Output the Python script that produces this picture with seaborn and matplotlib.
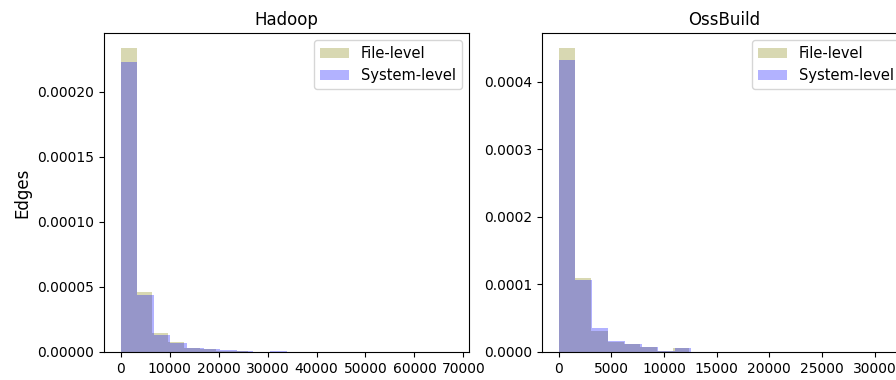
import numpy as np
import pandas as pd
import matplotlib
matplotlib.use("Agg")
import matplotlib.pyplot as plt
import seaborn as sns

# ---- data (density per bin) ----
hadoop_file_max = 65000
hadoop_sys_max = 67760
hadoop_file = [2.336e-4, 4.65e-5, 1.44e-5, 8.0e-6, 2.8e-6, 2.1e-6, 1.0e-6, 4e-7, 3e-7, 3e-7,
               2e-7, 0, 0, 0, 0, 0, 0, 0, 0, 1e-7]
hadoop_sys = [2.226e-4, 4.38e-5, 1.31e-5, 7.2e-6, 2.8e-6, 2.1e-6, 1.2e-6, 8e-7, 3e-7, 6e-7,
              3e-7, 0, 0, 0, 0, 0, 0, 0, 0, 1e-7]

oss_file_max = 31000
oss_sys_max = 31500
oss_file = [4.50e-4, 1.095e-4, 3.12e-5, 1.53e-5, 1.23e-5, 7.9e-6, 1.5e-6, 5.5e-6, 0, 5e-7,
            4e-7, 0, 4e-7, 4e-7, 0, 0, 0, 4e-7, 0, 2e-7]
oss_sys = [4.33e-4, 1.07e-4, 3.61e-5, 1.63e-5, 1.23e-5, 7.9e-6, 1.5e-6, 5.5e-6, 0, 5e-7,
           4e-7, 0, 6e-7, 4e-7, 0, 0, 0, 5e-7, 0, 2e-7]

titles = ["Hadoop", "OssBuild"]
series_labels = ["File-level", "System-level"]
colors = ["olive", "blue"]
n_bins = 20

fig = plt.figure(figsize=(8.96, 3.8), dpi=100)
ax1 = fig.add_axes([0.1161, 0.0737, 0.4074, 0.8395])
ax2 = fig.add_axes([0.6050, 0.0737, 0.4074, 0.8395])

panels = [
    (ax1, [(hadoop_file, hadoop_file_max), (hadoop_sys, hadoop_sys_max)]),
    (ax2, [(oss_file, oss_file_max), (oss_sys, oss_sys_max)]),
]

for (ax, series), title in zip(panels, titles):
    for (vals, vmax), lab, col in zip(series, series_labels, colors):
        width = vmax / n_bins
        centers = width * (np.arange(n_bins) + 0.5)
        df = pd.DataFrame({"x": centers, "w": vals})
        sns.histplot(data=df, x="x", weights="w", bins=n_bins, binrange=(0, vmax),
                     stat="count", color=col, alpha=0.3, linewidth=0, ax=ax)
    ax.set_title(title, fontsize=12)
    ax.set_xlabel("")
    ax.set_ylabel("")
    handles = [plt.Rectangle((0, 0), 1, 1, color=c, alpha=0.3, linewidth=0) for c in colors]
    ax.legend(handles, series_labels, loc="upper right", fontsize=10.5)

ax1.set_ylabel("Edges", fontsize=12)
ax1.set_yticks([0, 0.00005, 0.0001, 0.00015, 0.0002])
ax1.set_yticklabels(["0.00000", "0.00005", "0.00010", "0.00015", "0.00020"])
ax2.set_yticks([0, 0.0001, 0.0002, 0.0003, 0.0004])
ax2.set_yticklabels(["0.0000", "0.0001", "0.0002", "0.0003", "0.0004"])

fig.savefig("out.png", dpi=100)
